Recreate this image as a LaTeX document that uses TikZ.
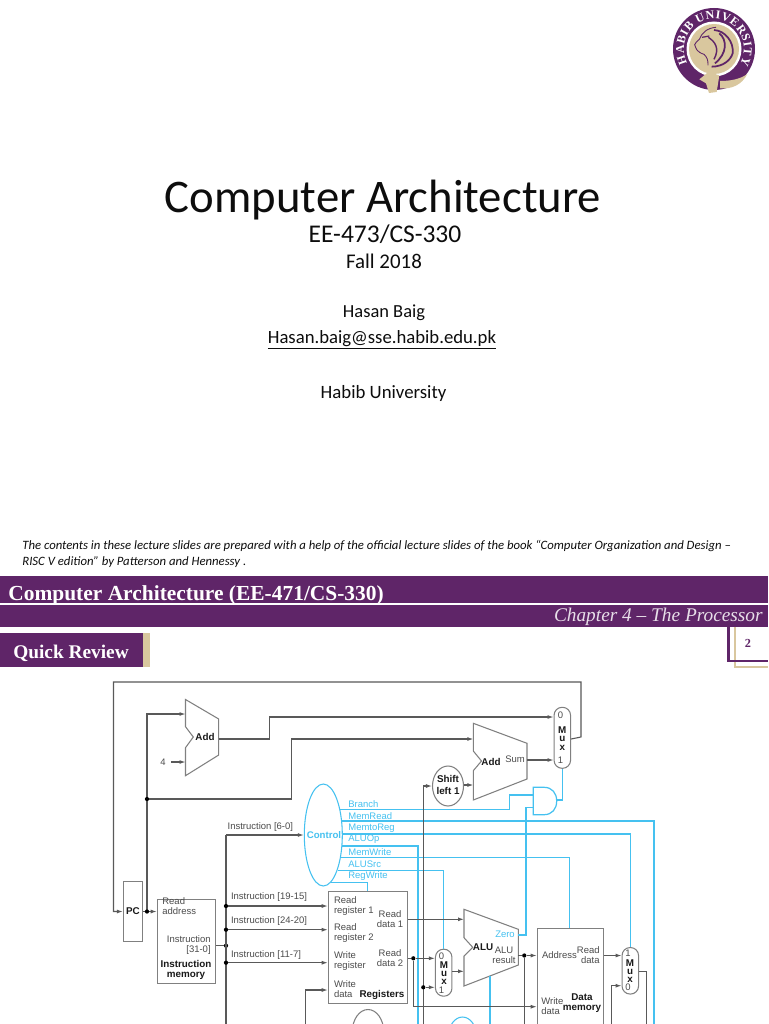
\documentclass[tikz,border=0pt]{standalone}
\usepackage{fontspec}
\setmainfont{Carlito}
\newfontfamily\diagfont{Liberation Sans}
\newfontfamily\bandfont{Liberation Serif}
\usetikzlibrary{shapes.geometric, arrows.meta, positioning, calc, decorations.text}
\definecolor{habib}{HTML}{5F2568}
\definecolor{habibtan}{HTML}{D9C79E}
\definecolor{ctlblue}{HTML}{45C1F0}

\begin{document}
\begin{tikzpicture}[
    x=0.02cm, y=-0.02cm,
    wire/.style={draw=black!65, line width=0.6pt},
    sig/.style={wire, -{Latex[length=1.2mm,width=0.8mm]}},
    ctl/.style={draw=ctlblue, line width=0.7pt},
    ctlb/.style={draw=ctlblue, line width=1pt},
    dot/.style={circle, fill=black, inner sep=0pt, minimum size=0.085cm},
    unit/.style={draw=black!50, line width=0.6pt, fill=white, inner sep=0pt},
    muxbox/.style={rectangle, rounded corners=0.16cm, draw=black!50, line width=0.6pt, fill=white, inner sep=0pt, minimum width=0.33cm},
    lbl/.style={inner sep=0pt, text=black!70, align=center, font=\fontsize{5.4}{5.67}\selectfont\diagfont},
    lbll/.style={lbl, align=left, anchor=west},
    bold/.style={inner sep=0pt, text=black!90, align=center, font=\fontsize{5.6}{5.67}\selectfont\diagfont\bfseries},
    muxt/.style={bold, font=\fontsize{5.6}{4.75}\selectfont\diagfont\bfseries},
    ctltxt/.style={inner sep=0pt, anchor=west, text=ctlblue, font=\fontsize{5.4}{5.67}\selectfont\diagfont},
    slide/.style={inner sep=0pt, text=black!95},
]
\clip (0,0) rectangle (768,1024);
\fill[white] (0,0) rectangle (768,1024);

% Logo
\fill[habib] (714,49) circle (41);
\fill[white] (714,49) circle (27.5);
\fill[habibtan] (714,49) circle (25);
\begin{scope}[shift={(640,0)}, x=0.00667cm, y=-0.00667cm]
  \fill[habibtan] (240,243) .. controls (270,243) and (300,238) .. (322,222) .. controls (305,255) and (275,268) .. (240,265) -- cycle;
  \fill[habibtan] (178,238) -- (205,216) -- (238,226) -- (230,276) -- (207,279) -- (198,250) -- cycle;
  \draw[habib, line width=0.5pt] (228,82) .. controls (200,84) and (185,100) .. (178,118) .. controls (172,124) and (165,128) .. (164,134) .. controls (168,146) and (170,156) .. (192,163) .. controls (200,170) and (205,180) .. (204,196);
  \draw[habib, line width=1pt] (222,90) .. controls (255,92) and (282,125) .. (278,160) .. controls (272,180) and (250,200) .. (215,200);
  \draw[habib, line width=1pt] (238,100) .. controls (262,120) and (262,160) .. (225,190);
  \draw[habib, line width=0.8pt] (205,112) .. controls (225,125) and (240,145) .. (222,178);
  \draw[habib, line width=0.7pt] (186,112) -- (208,108);
\end{scope}
\begin{scope}[shift={(714,49)}, y=0.02cm]
  \path[decorate, decoration={text along path, text align={fit to path}, text={|\fontsize{6.8}{8}\selectfont\bandfont\bfseries\color{white}|HABIB UNIVERSITY}}]
    (208:30) arc[start angle=208, end angle=-30, radius=30];
\end{scope}

% Title slide
\node[slide, font=\fontsize{26.6}{28}\selectfont] (title) at (383,200.5) {Computer Architecture};
\node[slide, font=\fontsize{14.5}{16}\selectfont] (course) at (385,234.5) {EE-473/CS-330};
\node[slide, font=\fontsize{11.9}{13}\selectfont] (term) at (384,261) {Fall 2018};
\node[slide, font=\fontsize{10.5}{12}\selectfont] (author) at (384,312.5) {Hasan Baig};
\node[slide, font=\fontsize{10.65}{12}\selectfont] (mail) at (382,340) {\underline{Hasan.baig@sse.habib.edu.pk}};
\node[slide, font=\fontsize{10.7}{12}\selectfont] (uni) at (383.5,393.5) {Habib University};
\node[slide, anchor=west, font=\fontsize{7.25}{9}\selectfont\itshape] (note1) at (22,546.5) {The contents in these lecture slides are prepared with a help of the official lecture slides of the book “Computer Organization and Design –};
\node[slide, anchor=west, font=\fontsize{7.25}{9}\selectfont\itshape] (note2) at (22,562.5) {RISC V edition” by Patterson and Hennessy .};

% Header band
\fill[habib] (0,576) rectangle (768,627);
\draw[white, line width=0.8pt] (0,604) -- (768,604);
\node[inner sep=0pt, anchor=west, text=white, font=\fontsize{12.2}{14}\selectfont\bandfont\bfseries] (band) at (8,595.5) {Computer Architecture (EE-471/CS-330)};
\node[inner sep=0pt, anchor=east, text=white!85!habib, font=\fontsize{11}{13}\selectfont\bandfont\itshape] (chap) at (763,617) {Chapter 4 – The Processor};
\fill[habib] (0,633) rectangle (143,667);
\fill[habibtan] (143,633) rectangle (150,667);
\node[inner sep=0pt, text=white, font=\fontsize{11}{13}\selectfont\bandfont\bfseries] (quick) at (71,653) {Quick Review};
\draw[habibtan, line width=1pt] (735,627) -- (735,667) -- (768,667);
\draw[habib, line width=1.2pt] (728.5,627) -- (728.5,661) -- (768,661);
\node[inner sep=0pt, text=habib, font=\fontsize{7}{8}\selectfont\bandfont\bfseries] (pageno) at (748,643.5) {2};

% Adders
\draw[unit] (185.5,699.5) -- (218.7,719) -- (218.7,755) -- (185.5,775.7) -- (185.5,747.7) -- (193.3,737) -- (185.5,726.7) -- cycle;
\node[bold] (addpc) at (205,736.5) {Add};
\node[lbl] (four) at (163,762) {4};
\coordinate (addpca) at (185.5,714);
\coordinate (addpcb) at (185.5,762);
\coordinate (addpcout) at (218.7,739);
\draw[unit] (473.3,723.3) -- (527,743.3) -- (527,779) -- (473.3,800) -- (473.3,770.7) -- (481.5,761) -- (473.3,751) -- cycle;
\node[bold] (addbr) at (491,761.5) {Add};
\node[lbl] (sum) at (515,759) {Sum};
\coordinate (addbra) at (473.3,739);
\coordinate (addbrb) at (473.3,785);
\coordinate (addbrout) at (527,760);

% Muxes
\node[muxbox, minimum height=1.22cm] (muxpc) at (562.3,737.8) {};
\node[lbl] at (560.5,715) {0};
\node[muxt] at (562.3,738.5) {M\\u\\x};
\node[lbl] at (560.5,760) {1};
\node[muxbox, minimum height=0.94cm] (muxalu) at (443.7,972.7) {};
\node[lbl] at (441.5,956) {0};
\node[muxt] at (444,973) {M\\u\\x};
\node[lbl] at (441.5,990.7) {1};
\node[muxbox, minimum height=0.93cm] (muxwb) at (630.3,970.8) {};
\node[lbl] at (628,953) {1};
\node[muxt] at (630,971) {M\\u\\x};
\node[lbl] at (628,987.7) {0};

% Shift, PC, memories
\node[unit, ellipse, minimum width=0.62cm, minimum height=0.8cm] (shift) at (448,786) {};
\node[bold, font=\fontsize{5.6}{6.8}\selectfont\diagfont\bfseries] at (448,785) {Shift\\left 1};
\node[unit, rectangle, minimum width=0.385cm, minimum height=1.21cm] (pc) at (133,911.5) {};
\node[bold] at (133,911) {PC};
\node[unit, rectangle, minimum width=1.17cm, minimum height=1.67cm] (imem) at (186.5,941.7) {};
\node[lbl, anchor=west, align=left] at (162,906) {Read\\address};
\node[lbl, anchor=east, align=right] at (211,945.3) {Instruction\\{[31-0]}};
\node[bold] at (186,970) {Instruction\\memory};
\node[unit, rectangle, minimum width=1.59cm, minimum height=2.23cm] (regs) at (368,947.5) {};
\node[lbll] at (333.7,905.7) {Read\\register 1};
\node[lbll] at (333.7,933.3) {Read\\register 2};
\node[lbll] at (333.7,961.2) {Write\\register};
\node[lbll] at (333.7,989) {Write\\data};
\node[bold] at (382,995.3) {Registers};
\node[lbl] at (390,918.7) {Read\\data 1};
\node[lbl] at (390,957.7) {Read\\data 2};
\node[unit, rectangle, anchor=north west, minimum width=1.33cm, minimum height=2.6cm] (dmem) at (536.7,927.7) {};
\node[lbll] at (541.7,955.3) {Address};
\node[lbl, anchor=east, align=right] at (600,955.2) {Read\\data};
\node[lbll] at (541,1006.5) {Write\\data};
\node[bold] at (582,1002.7) {Data\\memory};

% ALU
\draw[unit] (464,909.3) -- (518.3,929.3) -- (518.3,965) -- (464,986) -- (464,956) -- (472.7,947.3) -- (464,937.7) -- cycle;
\node[bold] (alu) at (483,947) {ALU};
\node[lbl] at (504,955) {ALU\\result};
\node[ctltxt, anchor=center] (zero) at (505,934.3) {Zero};
\coordinate (aluzero) at (518.3,935);
\coordinate (alua) at (464,919.3);
\coordinate (alub) at (464,971.3);
\coordinate (aluout) at (518.3,955.5);
\coordinate (alubot) at (490,976);

% Control
\node[ellipse, draw=ctlblue, line width=0.6pt, inner sep=0pt, minimum width=0.76cm, minimum height=2.04cm] (ctrl) at (323.3,835) {};
\node[inner sep=0pt, text=ctlblue, font=\fontsize{5.5}{6}\selectfont\diagfont\bfseries] at (324,835) {Control};
\node[ellipse, draw=black!50, line width=0.6pt, minimum width=0.63cm, minimum height=0.9cm] (imm) at (368,1032) {};
\node[ellipse, draw=ctlblue, line width=0.6pt, minimum width=0.57cm, minimum height=0.8cm] (aluctl) at (462.5,1037) {};
\node[ctltxt] at (348,804) {Branch};
\node[ctltxt] at (348,816) {MemRead};
\node[ctltxt] at (348,828) {MemtoReg};
\node[ctltxt] at (348,839.5) {ALUOp};
\node[ctltxt] at (348,852) {MemWrite};
\node[ctltxt] at (348,864) {ALUSrc};
\node[ctltxt] at (348,876) {RegWrite};

% AND gate
\draw[ctl, fill=white] (533.3,787.3) -- (544,787.3) .. controls (552,787.3) and (556.7,793) .. (556.7,801) .. controls (556.7,809) and (552,814.7) .. (544,814.7) -- (533.3,814.7) -- cycle;
\coordinate (andina) at (533.3,795);
\coordinate (andinb) at (533.3,807.7);
\coordinate (andout) at (556.7,800);

% Free ends at the lower edge
\coordinate (botimem) at (226,1030);
\coordinate (botwd) at (305.7,1030);
\coordinate (botaluop) at (417.7,1030);
\coordinate (botsext) at (423.3,1030);
\coordinate (botaddr) at (524.3,1030);
\coordinate (botalu) at (490,1030);
\coordinate (botmemin) at (611.7,1030);
\coordinate (botwb) at (646.7,1030);
\coordinate (botmemrd) at (654.3,1030);
\coordinate (fourout) at (171,762);

% Control lines
\draw[ctl] (ctrl.56) -| (509.3,795) -- (andina);
\draw[ctlb] (ctrl.36) -| (botmemrd);
\draw[ctl] (ctrl.3) -| (muxwb.north);
\draw[ctlb] (ctrl.-30) -| (botaluop);
\draw[ctl] (ctrl.-52) -| (dmem.north -| 569.3,0);
\draw[ctl] (ctrl.-68) -| (muxalu.north);
\draw[ctl] (ctrl.-81) -| (regs.north -| 367.3,0);
\draw[ctl] (aluzero) -| (526,807.7) -- (andinb);
\draw[ctl] (andout) -| (muxpc.south);
\draw[ctlb] (alubot) -- (botalu);

% PC loop
\draw[sig] (muxpc.east |- addpcout) -- (581,737) -- (581,682) -- (113.5,682) |- (pc.west);
\coordinate (pcfork) at (147,911.5);
\draw[wire] (pc.east) -- (pcfork);
\draw[sig] (pcfork) -- (imem.west |- pcfork);
\draw[sig] (pcfork) |- (addpca);
\node[dot] (pcdot) at (pcfork) {};
\node[dot] (brdot) at (147,799) {};
\draw[sig] (brdot) -| (291.6,739) -- (addbra);
\draw[sig] (addpcout) -| (269.7,717) -- (muxpc.west |- 0,717);
\draw[sig] (fourout) -- (addpcb);
\draw[sig] (addbrout) -- (muxpc.west |- addbrout);
\draw[sig] (shift.east |- addbrb) -- (addbrb);

% Instruction fields
\node[dot] (imdot) at (226,945.7) {};
\draw[wire] (imem.east |- imdot) -- (imdot);
\draw[wire] (botimem) -- (226,835);
\draw[sig] (226,835) -- (ctrl.west);
\node[dot] (rsa) at (226,906) {};
\node[dot] (rsb) at (226,929.7) {};
\node[dot] (rd) at (226,962.7) {};
\draw[sig] (rsa) -- (regs.west |- rsa);
\draw[sig] (rsb) -- (regs.west |- rsb);
\draw[sig] (rd) -- (regs.west |- rd);
\node[lbl, anchor=west] at (227.3,827) {Instruction [6-0]};
\node[lbl, anchor=west] at (230.7,897.3) {Instruction [19-15]};
\node[lbl, anchor=west] at (230.7,921) {Instruction [24-20]};
\node[lbl, anchor=west] at (230.7,955) {Instruction [11-7]};
\draw[sig] (botwd) |- (regs.west |- 0,990);

% Datapath
\draw[wire] (botsext) -- (423.3,786);
\draw[sig] (423.3,786) -- (shift.west);
\node[dot] (sxdot) at (423.3,987.3) {};
\draw[sig] (sxdot) -- (muxalu.west |- sxdot);
\draw[sig] (regs.east |- alua) -- (alua);
\node[dot] (rd2dot) at (413.3,958.3) {};
\draw[wire] (regs.east |- rd2dot) -- (rd2dot);
\draw[sig] (rd2dot) -- (muxalu.west |- rd2dot);
\draw[sig] (rd2dot) |- (dmem.west |- 0,1006.7);
\draw[sig] (muxalu.east |- alub) -- (alub);
\node[dot] (addrdot) at (524.3,955.5) {};
\draw[wire] (aluout) -- (addrdot);
\draw[sig] (addrdot) -- (dmem.west |- addrdot);
\draw[wire] (addrdot) -- (botaddr);
\draw[sig] (dmem.east |- addrdot) -- (muxwb.west |- addrdot);
\draw[sig] (botmemin) |- (muxwb.west |- 0,985.7);
\draw[wire] (muxwb.east |- 0,971.7) -| (botwb);

\end{tikzpicture}
\end{document}
